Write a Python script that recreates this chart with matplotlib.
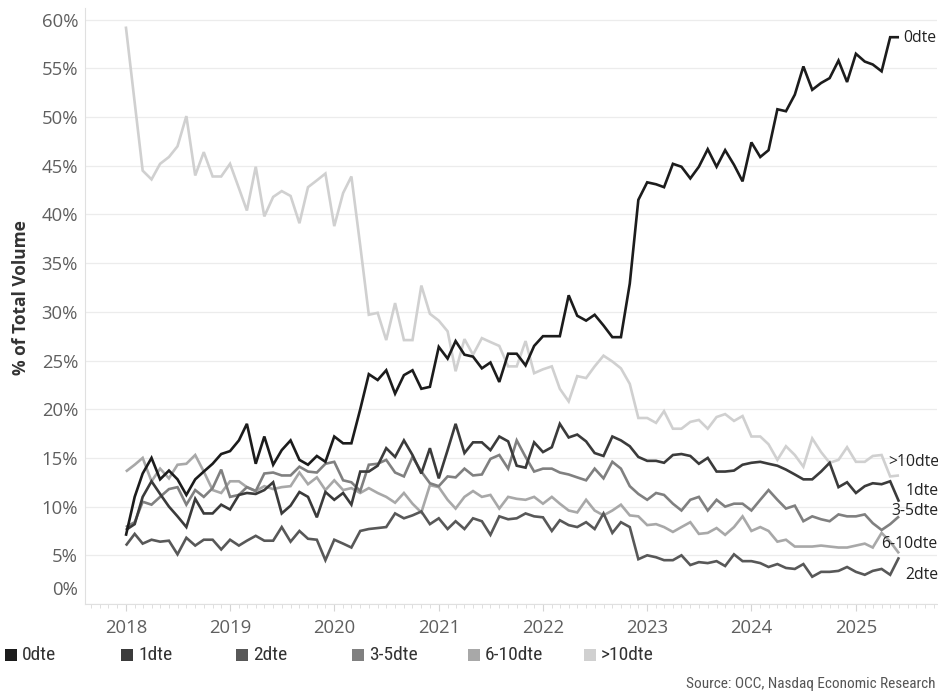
import matplotlib
matplotlib.use('Agg')
import matplotlib.pyplot as plt
import matplotlib.dates as mdates
from matplotlib.patches import Rectangle
import pandas as pd

# ---------------- data ----------------
months = pd.date_range('2018-01-01', periods=90, freq='MS')

dte0 = [7.0, 11.0, 13.4, 15.0, 12.8, 13.7, 12.8, 11.2, 12.8, 13.6, 14.4, 15.4,
        15.7, 16.8, 18.5, 14.4, 17.2, 14.3, 15.8, 16.8, 14.8, 14.3, 15.2, 14.6,
        17.2, 16.5, 16.5, 20.0, 23.6, 23.0, 24.0, 21.6, 23.5, 24.0, 22.1, 22.3,
        26.4, 25.2, 27.0, 25.6, 25.4, 24.2, 24.8, 22.8, 25.7, 25.7, 24.5, 26.5,
        27.5, 27.5, 27.5, 31.7, 29.6, 29.1, 29.7, 28.6, 27.4, 27.4, 32.9, 41.5,
        43.3, 43.1, 42.8, 45.2, 44.9, 43.7, 44.9, 46.7, 44.9, 46.6, 45.1, 43.4,
        47.4, 45.9, 46.6, 50.8, 50.6, 52.3, 55.2, 52.8, 53.5, 54.0, 55.8, 53.6,
        56.5, 55.7, 55.4, 54.7, 58.2, 58.2]

dte1 = [7.6, 8.2, 11.0, 12.6, 11.3, 10.0, 9.0, 7.9, 10.8, 9.3, 9.3, 10.2,
        9.7, 11.2, 11.4, 11.3, 11.7, 12.5, 9.3, 10.1, 11.5, 11.0, 8.9, 11.5,
        10.7, 11.4, 10.2, 13.6, 13.6, 14.2, 16.0, 15.1, 16.8, 15.3, 13.4, 16.0,
        12.9, 15.8, 18.5, 15.5, 16.6, 16.6, 15.8, 17.2, 16.7, 14.2, 14.0, 16.6,
        15.6, 16.1, 18.5, 17.1, 17.4, 16.7, 15.5, 15.2, 17.2, 16.8, 16.2, 15.1,
        14.7, 14.7, 14.5, 15.3, 15.4, 15.2, 14.4, 15.0, 13.6, 13.6, 13.7, 14.3,
        14.5, 14.6, 14.4, 14.2, 13.8, 13.3, 12.8, 12.8, 13.6, 14.5, 12.0, 12.5,
        11.4, 12.1, 12.4, 12.3, 12.6, 10.5]

dte2 = [6.0, 7.2, 6.2, 6.6, 6.4, 6.5, 5.1, 6.8, 6.0, 6.6, 6.6, 5.6,
        6.6, 6.0, 6.5, 7.0, 6.5, 6.5, 7.9, 6.4, 7.5, 6.7, 6.6, 4.5,
        6.6, 6.2, 5.8, 7.5, 7.7, 7.8, 7.9, 9.3, 8.8, 9.1, 9.5, 8.2,
        8.8, 7.7, 8.5, 7.7, 8.8, 8.5, 7.1, 9.0, 8.7, 8.8, 9.3, 9.0,
        8.9, 7.5, 8.6, 8.1, 7.9, 8.4, 7.7, 9.3, 7.3, 8.4, 7.9, 4.6,
        5.0, 4.8, 4.5, 4.5, 5.0, 4.0, 4.3, 4.2, 4.4, 3.9, 5.1, 4.4,
        4.4, 4.2, 3.8, 4.1, 3.7, 3.6, 4.1, 2.8, 3.3, 3.3, 3.4, 3.8,
        3.3, 3.0, 3.4, 3.6, 3.0, 4.8]

dte3_5 = [7.9, 8.4, 10.5, 10.2, 11.0, 11.8, 12.0, 10.2, 11.7, 11.0, 11.9, 13.8,
          11.0, 11.2, 12.0, 11.6, 13.4, 13.5, 13.2, 13.2, 14.1, 13.6, 13.5, 14.4,
          14.6, 12.7, 12.5, 11.6, 14.3, 14.4, 14.8, 13.5, 13.1, 15.1, 13.6, 12.4,
          12.1, 13.1, 13.0, 13.9, 13.2, 13.3, 14.9, 15.3, 13.9, 16.8, 15.1, 13.6,
          13.9, 13.9, 13.5, 13.3, 13.0, 12.7, 13.9, 12.9, 14.6, 13.9, 12.1, 11.3,
          10.7, 11.4, 11.2, 10.3, 9.6, 10.7, 11.0, 9.6, 10.7, 10.0, 10.3, 10.3,
          9.6, 10.7, 11.7, 10.7, 9.8, 10.1, 8.5, 9.0, 8.7, 8.5, 9.2, 9.0,
          9.0, 9.2, 8.3, 7.6, 8.2, 9.0]

dte6_10 = [13.6, 14.3, 15.0, 12.6, 13.9, 12.9, 14.3, 14.4, 15.3, 13.6, 11.7, 11.4,
           12.6, 12.6, 12.0, 11.6, 12.1, 11.8, 12.0, 12.1, 13.5, 12.3, 13.0, 11.7,
           12.7, 11.7, 11.9, 11.4, 11.9, 11.4, 11.0, 10.4, 11.4, 10.3, 9.4, 12.2,
           12.0, 10.7, 9.8, 11.0, 11.6, 11.0, 11.2, 9.8, 11.0, 10.8, 10.7, 11.0,
           10.3, 11.0, 10.3, 9.6, 9.4, 10.7, 9.6, 9.1, 9.6, 10.2, 9.1, 9.0,
           8.1, 8.2, 7.9, 7.4, 7.9, 8.4, 7.2, 7.3, 7.8, 7.1, 7.9, 9.0,
           7.5, 7.9, 7.5, 6.4, 6.6, 5.9, 5.9, 5.9, 6.0, 5.9, 5.8, 5.8,
           6.0, 6.2, 5.8, 7.3, 6.4, 5.2]

dte10p = [59.3, 51.5, 44.5, 43.6, 45.2, 45.9, 47.0, 50.1, 44.0, 46.4, 43.9, 43.9,
          45.2, 42.7, 40.4, 44.9, 39.8, 41.8, 42.4, 41.9, 39.1, 42.8, 43.5, 44.2,
          38.8, 42.2, 43.9, 36.8, 29.7, 29.9, 27.1, 30.9, 27.1, 27.1, 32.7, 29.8,
          29.1, 28.0, 23.9, 27.2, 25.6, 27.3, 26.9, 26.5, 24.4, 24.4, 27.0, 23.7,
          24.1, 24.4, 22.1, 20.8, 23.4, 23.2, 24.4, 25.5, 24.9, 24.2, 22.6, 19.1,
          19.1, 18.6, 19.8, 18.0, 18.0, 18.7, 18.9, 18.0, 19.2, 19.5, 18.8, 19.3,
          17.2, 17.2, 16.4, 14.8, 16.2, 15.3, 14.1, 17.0, 15.6, 14.5, 14.8, 16.1,
          14.6, 14.6, 15.2, 15.3, 13.1, 13.2]

series_names = ['0dte', '1dte', '2dte', '3-5dte', '6-10dte', '>10dte']
series_values = [dte0, dte1, dte2, dte3_5, dte6_10, dte10p]
colors = ['#1c1c1c', '#3b3b3b', '#585858', '#808080', '#a8a8a8', '#d0d0d0']
y_ticks = [0, 5, 10, 15, 20, 25, 30, 35, 40, 45, 50, 55, 60]
y_tick_labels = ['0%', '5%', '10%', '15%', '20%', '25%', '30%', '35%', '40%',
                 '45%', '50%', '55%', '60%']
source_text = 'Source: OCC, Nasdaq Economic Research'
y_title = '% of Total Volume'

# ---------------- figure ----------------
W, H = 938, 692
fig = plt.figure(figsize=(W / 100, H / 100), dpi=100)
fig.patch.set_facecolor('white')

ax_left, ax_right, ax_top, ax_bottom = 85, 937, 8, 604
ax = fig.add_axes([ax_left / W, (H - ax_bottom) / H,
                   (ax_right - ax_left) / W, (ax_bottom - ax_top) / H])

tick_font = 'Open Sans'
narrow = ['Liberation Sans Narrow', 'Roboto Condensed', 'Liberation Sans']

# lines: lightest first so darker ones sit on top
for name, vals, col in reversed(list(zip(series_names, series_values, colors))):
    ax.plot(months, vals, color=col, lw=1.9, solid_joinstyle='miter',
            solid_capstyle='butt', zorder=3)

ax.set_ylim(0, 61.2)
ax.set_xlim(pd.Timestamp('2017-08-11'), pd.Timestamp('2025-10-12'))

ax.set_yticks(y_ticks)
ax.set_yticklabels(['' if t == '0%' else t for t in y_tick_labels])
ax.yaxis.grid(True, color='#ececec', lw=0.9, zorder=0)
ax.xaxis.grid(False)
ax.tick_params(axis='y', length=0, pad=5, labelsize=13.3, labelcolor='#5f5f5f')
for lbl in ax.get_yticklabels():
    lbl.set_family(tick_font)

ax.xaxis.set_major_locator(mdates.YearLocator())
ax.xaxis.set_major_formatter(mdates.DateFormatter('%Y'))
ax.xaxis.set_minor_locator(mdates.MonthLocator())
ax.tick_params(axis='x', which='major', length=5, width=0.8, color='#d4d4d4',
               pad=6, labelsize=13.3, labelcolor='#5f5f5f')
ax.tick_params(axis='x', which='minor', length=3, width=0.7, color='#dedede')
for lbl in ax.get_xticklabels():
    lbl.set_family(tick_font)

for s in ['top', 'right']:
    ax.spines[s].set_visible(False)
for s in ['left', 'bottom']:
    ax.spines[s].set_color('#e0e0e0')
    ax.spines[s].set_linewidth(0.8)

# 0% label sits a little above the axis bottom, as in the original
fig.text(78 / W, 1 - 590 / H, '0%', ha='right', va='center', fontsize=13.3,
         color='#5f5f5f', family=tick_font)

# axis title
fig.text(21.5 / W, 1 - 298 / H, y_title, rotation=90, ha='center', va='center',
         fontsize=12.5, fontweight='bold', color='#333333', family=tick_font)

# end-of-line labels
end_label_pos = {'0dte': (903, 38), '>10dte': (888, 462), '1dte': (906, 491),
                 '3-5dte': (891, 511), '6-10dte': (881, 544), '2dte': (905, 575)}
for name in series_names:
    px, py = end_label_pos[name]
    fig.text(px / W, 1 - py / H, name, ha='left', va='center', fontsize=11.3,
             color='#222222', family=tick_font)

# legend along the bottom
leg_x = [5, 121, 236, 352, 468, 584]
leg_y = 655
for name, col, lx in zip(series_names, colors, leg_x):
    fig.patches.append(Rectangle((lx / W, (H - leg_y - 6) / H), 12 / W, 12 / H,
                                 transform=fig.transFigure, facecolor=col,
                                 edgecolor='none'))
    fig.text((lx + 17) / W, 1 - leg_y / H, name, ha='left', va='center',
             fontsize=14, color='#333333', family=narrow)

fig.text(935 / W, 1 - 684 / H, source_text, ha='right', va='center',
         fontsize=11, color='#555555', family=narrow)

fig.savefig('out.png', dpi=100, facecolor='white')
